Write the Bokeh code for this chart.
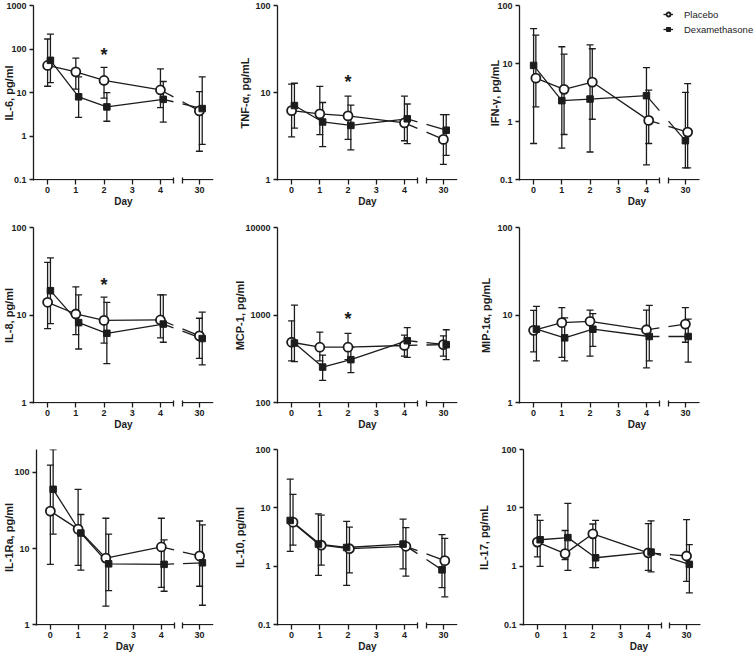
import math
from bokeh.plotting import figure
from bokeh.layouts import column, row
from bokeh.models import (FixedTicker, CustomJSTickFormatter, Legend,
                          LegendItem, Range1d)
from bokeh.core.properties import value
from bokeh.embed import file_html
from bokeh.resources import INLINE

# ---------------- data (medians and error ranges) ----
DAYS = [0, 1, 2, 4, 30]
X_TICK_DAYS = [0, 1, 2, 3, 4, 30]
X_TICK_LABELS = ["0", "1", "2", "3", "4", "30"]
SERIES_NAMES = ["Placebo", "Dexamethasone"]

IL6_PLACEBO = [42, 30, 19, 11.5, 3.8]
IL6_PLACEBO_LO = [14, 12, 7.5, 4.5, 0.45]
IL6_PLACEBO_HI = [170, 62, 38, 35, 10.5]
IL6_DEXA = [55, 8, 4.7, 7, 4.3]
IL6_DEXA_LO = [17, 2.7, 2.2, 2.1, 0.65]
IL6_DEXA_HI = [220, 23, 10, 18, 23]

TNF_PLACEBO = [6.2, 5.7, 5.4, 4.5, 2.9]
TNF_PLACEBO_LO = [3.1, 3.3, 2.9, 2.8, 1.5]
TNF_PLACEBO_HI = [12.5, 11.8, 9.1, 9.1, 5.6]
TNF_DEXA = [7.1, 4.6, 4.2, 5.0, 3.7]
TNF_DEXA_LO = [3.9, 2.4, 2.2, 2.6, 1.9]
TNF_DEXA_HI = [12.8, 7.7, 7.2, 7.4, 5.6]

IFN_PLACEBO = [5.6, 3.6, 4.8, 1.05, 0.66]
IFN_PLACEBO_LO = [1.8, 0.6, 1.1, 0.42, 0.16]
IFN_PLACEBO_HI = [31, 14.5, 18, 3.5, 4.5]
IFN_DEXA = [9.3, 2.3, 2.45, 2.8, 0.47]
IFN_DEXA_LO = [0.42, 0.35, 0.3, 0.18, 0.16]
IFN_DEXA_HI = [40, 19.5, 21, 8.5, 3.2]

IL8_PLACEBO = [14, 10.3, 8.7, 8.8, 5.8]
IL8_PLACEBO_LO = [7, 6, 4.8, 5.5, 3.2]
IL8_PLACEBO_HI = [40, 21, 16, 17, 9.2]
IL8_DEXA = [19, 8.2, 6.2, 7.9, 5.4]
IL8_DEXA_LO = [8, 4.1, 2.8, 4.9, 2.7]
IL8_DEXA_HI = [45, 17, 14, 17, 10.8]

MCP_PLACEBO = [490, 430, 430, 450, 460]
MCP_PLACEBO_LO = [300, 300, 310, 340, 340]
MCP_PLACEBO_HI = [860, 640, 620, 590, 580]
MCP_DEXA = [480, 255, 310, 510, 460]
MCP_DEXA_LO = [295, 180, 220, 330, 310]
MCP_DEXA_HI = [1300, 350, 430, 720, 680]

MIP_PLACEBO = [6.7, 8.2, 8.5, 6.8, 7.9]
MIP_PLACEBO_LO = [3.8, 3.3, 3.4, 2.5, 4.9]
MIP_PLACEBO_HI = [11.3, 12.2, 11.4, 11.4, 12.2]
MIP_DEXA = [6.9, 5.5, 6.9, 5.7, 5.7]
MIP_DEXA_LO = [3.0, 3.0, 4.4, 3.0, 2.9]
MIP_DEXA_HI = [12.6, 9.3, 10.4, 12.9, 9.0]

IL1RA_PLACEBO = [31, 18, 7.5, 10.5, 8]
IL1RA_PLACEBO_LO = [6.2, 6, 1.75, 3.1, 3.2]
IL1RA_PLACEBO_HI = [125, 60, 25, 25, 23]
IL1RA_DEXA = [60, 16, 6.3, 6.2, 6.5]
IL1RA_DEXA_LO = [15.5, 5.2, 2.8, 2.75, 1.8]
IL1RA_DEXA_HI = [200, 28, 15.5, 13, 20.5]

IL10_PLACEBO = [5.7, 2.3, 2.0, 2.2, 1.25]
IL10_PLACEBO_LO = [2.3, 1.05, 0.77, 0.68, 0.3]
IL10_PLACEBO_HI = [17, 7.5, 4.7, 4.6, 3.0]
IL10_DEXA = [6.1, 2.4, 2.1, 2.4, 0.87]
IL10_DEXA_LO = [1.8, 0.7, 0.47, 0.9, 0.43]
IL10_DEXA_HI = [31, 7.9, 5.9, 6.4, 3.5]

IL17_PLACEBO = [2.6, 1.65, 3.6, 1.7, 1.5]
IL17_PLACEBO_LO = [1.45, 1.3, 0.95, 0.85, 0.55]
IL17_PLACEBO_HI = [7.6, 4.1, 5.3, 5.4, 6.3]
IL17_DEXA = [2.85, 3.1, 1.4, 1.75, 1.08]
IL17_DEXA_LO = [1.0, 0.85, 0.95, 0.8, 0.35]
IL17_DEXA_HI = [6.1, 12, 6.1, 6.0, 2.35]

# significance marks (day 2), height of the asterisk
IL6_STAR = 100
TNF_STAR = 15.4
IL8_STAR = 26
MCP_STAR = 1050

PANELS = [
    dict(ylabel="IL-6, pg/ml", yr=(0.1, 1000), yt=[0.1, 1, 10, 100, 1000],
         p=(IL6_PLACEBO, IL6_PLACEBO_LO, IL6_PLACEBO_HI),
         d=(IL6_DEXA, IL6_DEXA_LO, IL6_DEXA_HI), star=IL6_STAR),
    dict(ylabel="TNF-\u03b1, pg/mL", yr=(1, 100), yt=[1, 10, 100],
         p=(TNF_PLACEBO, TNF_PLACEBO_LO, TNF_PLACEBO_HI),
         d=(TNF_DEXA, TNF_DEXA_LO, TNF_DEXA_HI), star=TNF_STAR),
    dict(ylabel="IFN-\u03b3, pg/mL", yr=(0.1, 100), yt=[0.1, 1, 10, 100],
         p=(IFN_PLACEBO, IFN_PLACEBO_LO, IFN_PLACEBO_HI),
         d=(IFN_DEXA, IFN_DEXA_LO, IFN_DEXA_HI), star=None, legend=True),
    dict(ylabel="IL-8, pg/ml", yr=(1, 100), yt=[1, 10, 100],
         p=(IL8_PLACEBO, IL8_PLACEBO_LO, IL8_PLACEBO_HI),
         d=(IL8_DEXA, IL8_DEXA_LO, IL8_DEXA_HI), star=IL8_STAR),
    dict(ylabel="MCP-1, pg/ml", yr=(100, 10000), yt=[100, 1000, 10000],
         p=(MCP_PLACEBO, MCP_PLACEBO_LO, MCP_PLACEBO_HI),
         d=(MCP_DEXA, MCP_DEXA_LO, MCP_DEXA_HI), star=MCP_STAR),
    dict(ylabel="MIP-1\u03b1, pg/mL", yr=(1, 100), yt=[1, 10, 100],
         p=(MIP_PLACEBO, MIP_PLACEBO_LO, MIP_PLACEBO_HI),
         d=(MIP_DEXA, MIP_DEXA_LO, MIP_DEXA_HI), star=None),
    dict(ylabel="IL-1Ra, pg/ml", yr=(1, 200), yt=[1, 10, 100],
         p=(IL1RA_PLACEBO, IL1RA_PLACEBO_LO, IL1RA_PLACEBO_HI),
         d=(IL1RA_DEXA, IL1RA_DEXA_LO, IL1RA_DEXA_HI), star=None),
    dict(ylabel="IL-10, pg/ml", yr=(0.1, 100), yt=[0.1, 1, 10, 100],
         p=(IL10_PLACEBO, IL10_PLACEBO_LO, IL10_PLACEBO_HI),
         d=(IL10_DEXA, IL10_DEXA_LO, IL10_DEXA_HI), star=None),
    dict(ylabel="IL-17, pg/mL", yr=(0.1, 100), yt=[0.1, 1, 10, 100],
         p=(IL17_PLACEBO, IL17_PLACEBO_LO, IL17_PLACEBO_HI),
         d=(IL17_DEXA, IL17_DEXA_LO, IL17_DEXA_HI), star=None),
]

# ---------------- layout / style ----------------
# broken x axis: days 0-4 linear, day 30 placed after a gap
X_START, X_AXIS_END = -0.5, 5.88
BREAK_L, BREAK_R = 4.46, 4.78
POS_LATE = 5.38

# horizontal nudge of the two series (per panel): (placebo, dexamethasone)
NUDGE = [(0, 0.1), (0, 0.1), (0.08, 0), (0, 0.1), (0, 0.1),
         (0, 0.1), (0, 0.1), (0.05, -0.05), (0, 0.1)]
# standoff of each y title from its tick labels
YLABEL_STANDOFF = [-12, 1, -7, -7, -4, 2, -4, 6, 8]

FONT = "Liberation Sans"
INK = "#1c1c1c"
LW = 1.3

COL_W = [231, 244, 279]
BORDER_LEFT = [33, 46, 44]
FRAME_W = [180, 180, 235]
ROW_H = [221, 223, 211]
BORDER_TOP = [5, 6, 5]
BORDER_BOTTOM = [41, 41, 30]
PX_PER_UNIT = FRAME_W[0] / (X_AXIS_END - X_START)


def xpos(d):
    return float(d) if d <= 4 else POS_LATE


def make_panel(idx, spec):
    r, c = divmod(idx, 3)
    W, H = COL_W[c], ROW_H[r]
    frame_h = H - BORDER_TOP[r] - BORDER_BOTTOM[r]
    x_end = X_START + FRAME_W[c] / PX_PER_UNIT
    ybot, ytop = spec["yr"]
    ndec = math.log10(ytop / ybot)
    pad = ndec / frame_h * 0.8
    p = figure(width=W, height=H, y_axis_type="log", title=None,
               x_range=Range1d(X_START, x_end),
               y_range=Range1d(ybot / 10 ** pad, ytop),
               min_border_left=BORDER_LEFT[c],
               min_border_right=W - BORDER_LEFT[c] - FRAME_W[c],
               min_border_top=BORDER_TOP[r], min_border_bottom=BORDER_BOTTOM[r],
               output_backend="svg", toolbar_location=None)
    p.grid.visible = False
    p.outline_line_color = None
    p.background_fill_color = "white"
    p.border_fill_color = "white"

    # ---- x axis (broken) ----
    tick_pos = [xpos(d) for d in X_TICK_DAYS]
    p.xaxis.ticker = FixedTicker(ticks=tick_pos, minor_ticks=[BREAK_L, BREAK_R])
    p.xaxis.formatter = CustomJSTickFormatter(
        args=dict(pos=tick_pos, labels=X_TICK_LABELS),
        code="""
        for (let i = 0; i < pos.length; i++) {
            if (Math.abs(pos[i] - tick) < 1e-6) return labels[i];
        }
        return "";
        """)
    p.xaxis.axis_line_color = None
    p.xaxis.major_tick_in = 1
    p.xaxis.major_tick_out = 4
    p.xaxis.minor_tick_in = 3
    p.xaxis.minor_tick_out = 3
    p.xaxis.minor_tick_line_color = INK
    p.xaxis.minor_tick_line_width = LW
    p.xaxis.major_label_standoff = 2
    p.xaxis.axis_label = "Day"
    p.xaxis.axis_label_standoff = 0

    # ---- y axis (log) ----
    p.yaxis.ticker = FixedTicker(ticks=spec["yt"], minor_ticks=[])
    p.yaxis.formatter = CustomJSTickFormatter(code="return tick.toString();")
    p.yaxis.axis_line_color = INK
    p.yaxis.axis_line_width = LW
    p.yaxis.major_tick_in = 0
    p.yaxis.major_tick_out = 4
    p.yaxis.minor_tick_line_color = None
    p.yaxis.major_label_standoff = 3
    p.yaxis.axis_label = spec["ylabel"]
    p.yaxis.axis_label_standoff = YLABEL_STANDOFF[idx]

    for ax in (p.xaxis, p.yaxis):
        ax.major_tick_line_color = INK
        ax.major_tick_line_width = LW
        ax.major_label_text_font = FONT
        ax.major_label_text_font_size = "9px"
        ax.major_label_text_font_style = "bold"
        ax.major_label_text_color = INK
        ax.axis_label_text_font = FONT
        ax.axis_label_text_font_style = "bold"
        ax.axis_label_text_color = INK
    p.xaxis.axis_label_text_font_size = "10px"
    p.yaxis.axis_label_text_font_size = "11px"

    # x axis line drawn in two pieces around the break
    p.segment(x0=[X_START, BREAK_R], x1=[BREAK_L, X_AXIS_END], y0=[ybot, ybot],
              y1=[ybot, ybot], line_color=INK, line_width=LW)

    series = [spec["p"], spec["d"]]
    xs_all = []
    for k, (vals, lo, hi) in enumerate(series):
        xs = [xpos(d) + NUDGE[idx][k] for d in DAYS]
        xs_all.append(xs)
        p.segment(x0=xs, x1=xs, y0=lo, y1=hi, line_color=INK, line_width=LW)
        p.scatter(x=xs + xs, y=list(lo) + list(hi), marker="dash", size=7,
                  line_color=INK, line_width=LW)

    line_r, mark_r = [], []
    for k, (vals, lo, hi) in enumerate(series):
        xs = xs_all[k]
        x4, x30 = xs[3], xs[4]
        l4, l30 = math.log10(vals[3]), math.log10(vals[4])

        def interp(x):
            return 10 ** (l4 + (x - x4) / (x30 - x4) * (l30 - l4))

        lr = p.multi_line(xs=[xs[:4], [x4, BREAK_L], [BREAK_R, x30]],
                          ys=[list(vals[:4]), [vals[3], interp(BREAK_L)],
                              [interp(BREAK_R), vals[4]]],
                          line_color=INK, line_width=LW)
        line_r.append(lr)

    for k, (vals, lo, hi) in enumerate(series):
        xs = xs_all[k]
        if k == 0:
            mr = p.scatter(x=xs, y=vals, marker="circle", size=9,
                           fill_color="white", line_color=INK, line_width=1.8)
        else:
            mr = p.scatter(x=xs, y=vals, marker="square", size=6.5,
                           fill_color=INK, line_color=INK, line_width=1)
        mark_r.append(mr)

    if spec.get("star") is not None:
        p.text(x=[xpos(2)], y=[spec["star"]], text=["*"],
               text_font=value(FONT), text_font_size="18px",
               text_font_style="bold", text_align="center",
               text_baseline="middle", y_offset=6, text_color=INK)

    if spec.get("legend"):
        legend = Legend(
            items=[LegendItem(label=SERIES_NAMES[0], renderers=[line_r[0], mark_r[0]]),
                   LegendItem(label=SERIES_NAMES[1], renderers=[line_r[1], mark_r[1]])],
            location=(144, frame_h - 30), orientation="vertical",
            border_line_color=None, background_fill_alpha=0,
            padding=0, margin=0, spacing=3, glyph_width=10, glyph_height=12,
            label_height=12, label_standoff=11, label_text_font=FONT,
            label_text_font_size="9.5px", label_text_color=INK)
        p.add_layout(legend, "center")
    return p


figs = [make_panel(i, s) for i, s in enumerate(PANELS)]
layout = column(row(*figs[0:3]), row(*figs[3:6]), row(*figs[6:9]))

open("out.html", "w").write(file_html(layout, INLINE))
